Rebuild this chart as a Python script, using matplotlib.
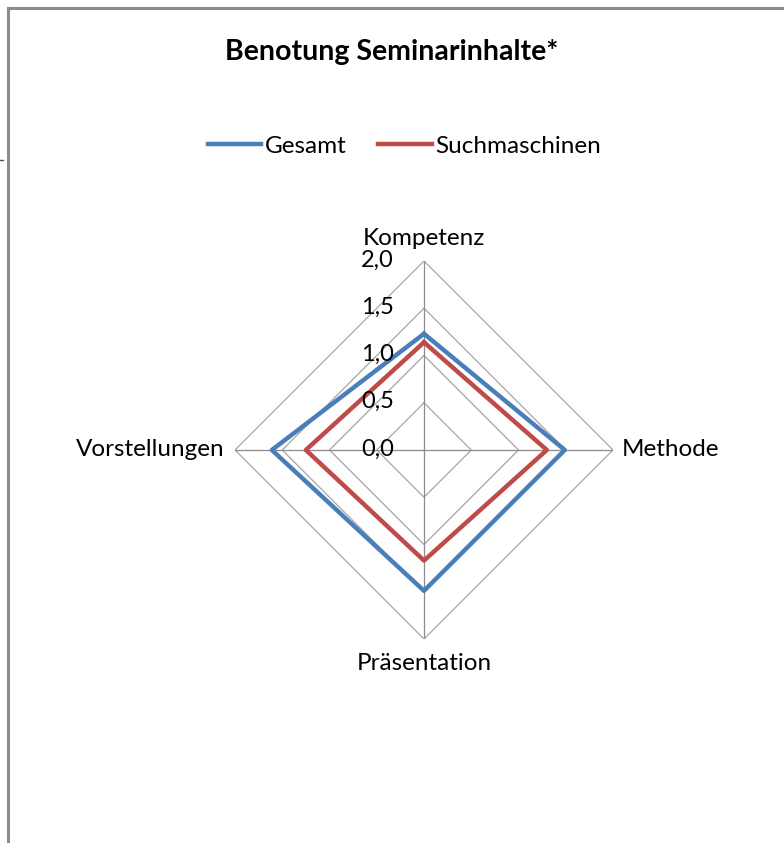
import numpy as np
import matplotlib
matplotlib.use("Agg")
import matplotlib.pyplot as plt
from matplotlib.lines import Line2D

plt.rcParams['font.family'] = ['Lato', 'DejaVu Sans']

categories = ['Kompetenz', 'Methode', 'Präsentation', 'Vorstellungen']
gesamt = [1.23, 1.49, 1.49, 1.61]
suchmaschinen = [1.14, 1.30, 1.17, 1.25]
r_ticks = [0.0, 0.5, 1.0, 1.5, 2.0]
r_labels = ['0,0', '0,5', '1,0', '1,5', '2,0']

W, H = 784, 843
fig = plt.figure(figsize=(W / 100, H / 100), dpi=100, facecolor='white')

# outer chart frame (Excel style)
fig.add_artist(Line2D([8 / W, 8 / W], [0, 1 - 8 / H], color='#8c8c8c', lw=2.2,
                      transform=fig.transFigure))
fig.add_artist(Line2D([8 / W, 1], [1 - 8 / H, 1 - 8 / H], color='#8c8c8c', lw=2.2,
                      transform=fig.transFigure))
fig.add_artist(Line2D([0, 3 / W], [1 - 160 / H, 1 - 160 / H], color='#555555', lw=1,
                      transform=fig.transFigure))

cx, cy, rad = 424, 450, 189
ax = fig.add_axes([(cx - rad) / W, (H - cy - rad) / H, 2 * rad / W, 2 * rad / H],
                  projection='polar')
ax.set_theta_offset(np.pi / 2)
ax.set_theta_direction(-1)
ax.set_ylim(0, 2.0)
ax.grid(False)
ax.spines['polar'].set_visible(False)
ax.set_xticks([])
ax.set_yticks([])
ax.set_facecolor('none')

angles = np.linspace(0, 2 * np.pi, len(categories), endpoint=False)
closed = np.concatenate([angles, angles[:1]])

# diamond gridlines and spokes
for r in r_ticks[1:]:
    ax.plot(closed, [r] * len(closed), color='#a6a6a6', lw=0.9, zorder=1)
for a in angles:
    ax.plot([a, a], [0, 2.0], color='#8c8c8c', lw=0.9, zorder=1)

ax.plot(closed, gesamt + gesamt[:1], color='#4a7ebb', lw=3.2, zorder=3)
ax.plot(closed, suchmaschinen + suchmaschinen[:1], color='#be4b48', lw=3.2, zorder=3)

for r, lab in zip(r_ticks, r_labels):
    ax.annotate(lab, xy=(0, r), xytext=(-30, 1), textcoords='offset pixels',
                ha='right', va='center', fontsize=17, color='black', zorder=4)

offsets = [(0, 12), (9, 0), (0, -14), (-10, 0)]
aligns = [('center', 'bottom'), ('left', 'center'), ('center', 'top'), ('right', 'center')]
for a, name, off, (ha, va) in zip(angles, categories, offsets, aligns):
    ax.annotate(name, xy=(a, 2.0), xytext=off, textcoords='offset pixels',
                ha=ha, va=va, fontsize=17.5)

fig.text(0.5, 1 - 52 / H, 'Benotung Seminarinhalte*', ha='center', va='center',
         fontsize=20.5, fontweight='bold')

handles = [Line2D([], [], color='#4a7ebb', lw=3.2), Line2D([], [], color='#be4b48', lw=3.2)]
fig.legend(handles, ['Gesamt', 'Suchmaschinen'], loc='center', bbox_to_anchor=(0.516, 1 - 146 / H),
           ncol=2, frameon=False, fontsize=17.5, handlelength=2.2, handletextpad=0.16,
           columnspacing=1.3)

fig.savefig('out.png', dpi=100, facecolor='white')
